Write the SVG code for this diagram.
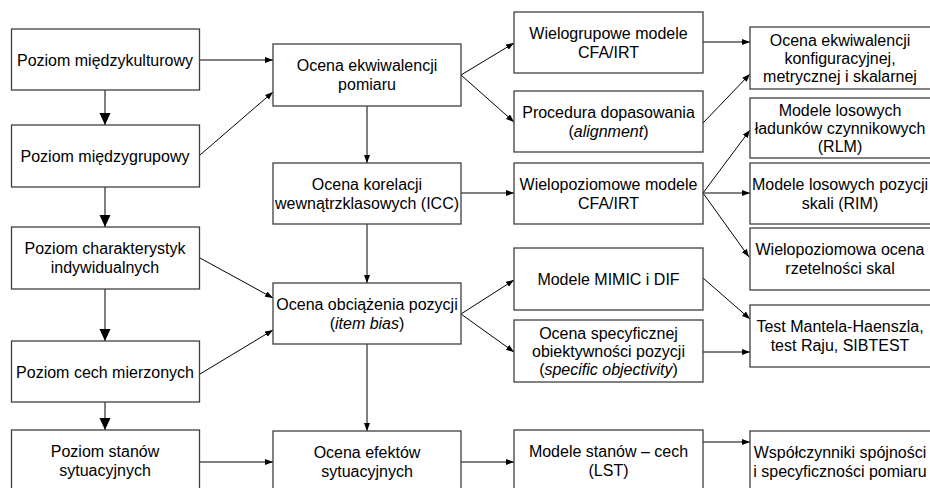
<svg xmlns="http://www.w3.org/2000/svg" width="930" height="488" viewBox="0 0 930 488">
<defs>
<style>
.box{fill:#fff;stroke:#404040;stroke-width:1.3}
.t{font-family:"Liberation Sans",Arial,sans-serif;font-size:16px;fill:#000;text-anchor:middle}
.c{fill:none;stroke:#000;stroke-width:1}
.cs{marker-end:url(#a)}
.cb{marker-end:url(#b)}
</style>
<marker id="a" markerUnits="userSpaceOnUse" markerWidth="9" markerHeight="7" refX="8" refY="3" orient="auto"><path d="M0,0 L8,3 L0,6 z" fill="#000"/></marker>
<marker id="b" markerUnits="userSpaceOnUse" markerWidth="13" markerHeight="12" refX="12" refY="5.5" orient="auto"><path d="M0,0 L12,5.5 L0,11 z" fill="#000"/></marker>
</defs>
<rect width="930" height="488" fill="#fff"/>
<g id="connectors">
<path class="c cb" d="M105,90 V125"/>
<path class="c cb" d="M105,187 V227"/>
<path class="c cb" d="M105,289 V341"/>
<path class="c cb" d="M105,402 V430"/>
<path class="c cs" d="M199,60 H273"/>
<path class="c cs" d="M200,155 L273,92"/>
<path class="c cs" d="M200,258 L273,298"/>
<path class="c cs" d="M200,374 L273,330"/>
<path class="c cs" d="M200,462 H273"/>
<path class="c cs" d="M367,106 V163"/>
<path class="c cs" d="M367,224 V283"/>
<path class="c cs" d="M367,344 V431"/>
<path class="c cs" d="M461,75 L514,43"/>
<path class="c cs" d="M461,75 L514,122"/>
<path class="c cs" d="M461,193 H514"/>
<path class="c cs" d="M461,314 L514,280"/>
<path class="c cs" d="M461,314 L514,352"/>
<path class="c cs" d="M461,462 H514"/>
<path class="c cs" d="M703,42 H750"/>
<path class="c cs" d="M703,123 L750,74"/>
<path class="c cs" d="M703,193 L750,130"/>
<path class="c cs" d="M703,193 H750"/>
<path class="c cs" d="M703,193 L749,257"/>
<path class="c cs" d="M703,278 L750,319"/>
<path class="c cs" d="M703,352 H750"/>
<path class="c cs" d="M703,442 H750"/>
</g>
<g id="n1"><rect class="box" x="11.5" y="29" width="188" height="61"/><text class="t" x="105" y="65.5">Poziom międzykulturowy</text></g>
<g id="n2"><rect class="box" x="11.5" y="125" width="188" height="62"/><text class="t" x="105" y="162">Poziom międzygrupowy</text></g>
<g id="n3"><rect class="box" x="11.5" y="227" width="188" height="62"/><text class="t" x="105" y="254">Poziom charakterystyk</text><text class="t" x="105" y="273">indywidualnych</text></g>
<g id="n4"><rect class="box" x="11.5" y="341" width="188" height="61"/><text class="t" x="105" y="377.5">Poziom cech mierzonych</text></g>
<g id="n5"><rect class="box" x="11.5" y="430" width="188" height="62"/><text class="t" x="105" y="457">Poziom stanów</text><text class="t" x="105" y="476">sytuacyjnych</text></g>
<g id="m1"><rect class="box" x="273" y="44" width="188" height="62"/><text class="t" x="367" y="71.2">Ocena ekwiwalencji</text><text class="t" x="367" y="90.2">pomiaru</text></g>
<g id="m2"><rect class="box" x="273" y="163" width="188" height="61"/><text class="t" x="367" y="189.7">Ocena korelacji</text><text class="t" x="367" y="208.7">wewnątrzklasowych (ICC)</text></g>
<g id="m3"><rect class="box" x="273" y="283" width="188" height="61"/><text class="t" x="367" y="309.7">Ocena obciążenia pozycji</text><text class="t" x="367" y="328.7">(<tspan font-style="italic">item bias</tspan>)</text></g>
<g id="m4"><rect class="box" x="273" y="431" width="188" height="62"/><text class="t" x="367" y="458">Ocena efektów</text><text class="t" x="367" y="477">sytuacyjnych</text></g>
<g id="r1"><rect class="box" x="514" y="12" width="189" height="61"/><text class="t" x="608.5" y="38.7">Wielogrupowe modele</text><text class="t" x="608.5" y="57.7">CFA/IRT</text></g>
<g id="r2"><rect class="box" x="514" y="91" width="189" height="61"/><text class="t" x="608.5" y="117.7">Procedura dopasowania</text><text class="t" x="608.5" y="136.7">(<tspan font-style="italic">alignment</tspan>)</text></g>
<g id="r3"><rect class="box" x="514" y="163" width="189" height="61"/><text class="t" x="608.5" y="189.7">Wielopoziomowe modele</text><text class="t" x="608.5" y="208.7">CFA/IRT</text></g>
<g id="r4"><rect class="box" x="514" y="248" width="189" height="62"/><text class="t" x="608.5" y="285">Modele MIMIC i DIF</text></g>
<g id="r5"><rect class="box" x="514" y="320" width="189" height="62"/><text class="t" x="608.5" y="338.7">Ocena specyficznej</text><text class="t" x="608.5" y="356.7">obiektywności pozycji</text><text class="t" x="608.5" y="374.7">(<tspan font-style="italic">specific objectivity</tspan>)</text></g>
<g id="r6"><rect class="box" x="514" y="430" width="189" height="62"/><text class="t" x="608.5" y="457">Modele stanów – cech</text><text class="t" x="608.5" y="476">(LST)</text></g>
<g id="s1"><rect class="box" x="750" y="27" width="185" height="62"/><text class="t" x="840" y="45.7">Ocena ekwiwalencji</text><text class="t" x="840" y="63.7">konfiguracyjnej,</text><text class="t" x="840" y="81.7">metrycznej i skalarnej</text></g>
<g id="s2"><rect class="box" x="750" y="98" width="185" height="60"/><text class="t" x="840" y="115.7">Modele losowych</text><text class="t" x="840" y="133.7">ładunków czynnikowych</text><text class="t" x="840" y="151.7">(RLM)</text></g>
<g id="s3"><rect class="box" x="750" y="163" width="185" height="61"/><text class="t" x="840" y="189.7">Modele losowych pozycji</text><text class="t" x="840" y="208.7">skali (RIM)</text></g>
<g id="s4"><rect class="box" x="750" y="228" width="185" height="62"/><text class="t" x="840" y="255">Wielopoziomowa ocena</text><text class="t" x="840" y="274">rzetelności skal</text></g>
<g id="s5"><rect class="box" x="750" y="305" width="185" height="62"/><text class="t" x="840" y="332">Test Mantela-Haenszla,</text><text class="t" x="840" y="351">test Raju, SIBTEST</text></g>
<g id="s6"><rect class="box" x="750" y="431" width="185" height="62"/><text class="t" x="840" y="458">Współczynniki spójności</text><text class="t" x="840" y="477">i specyficzności pomiaru</text></g>
</svg>
